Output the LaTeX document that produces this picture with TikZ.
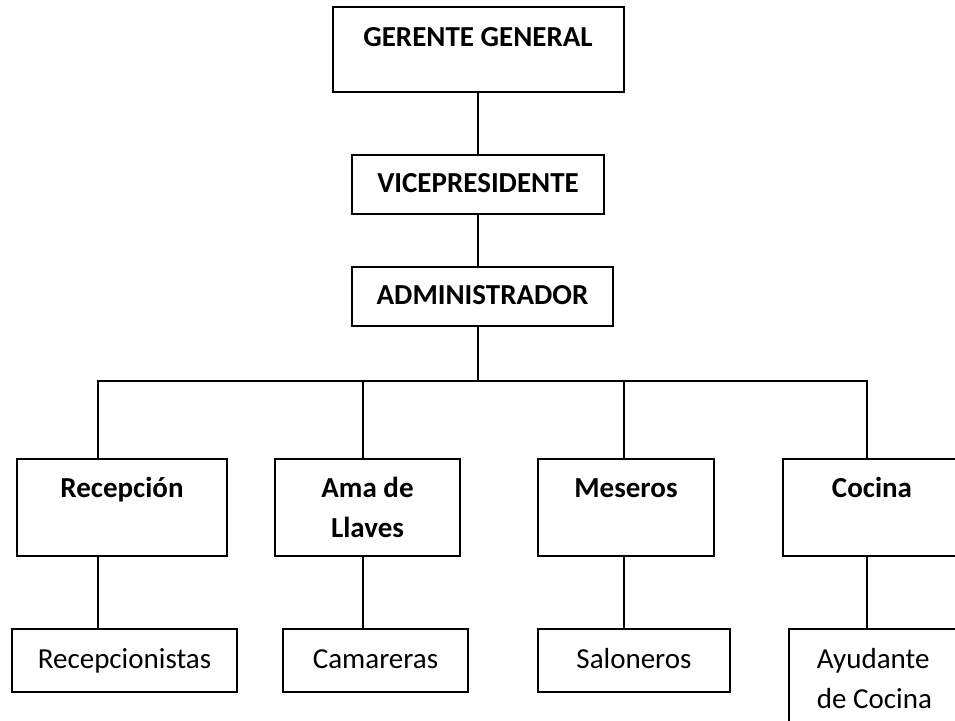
\documentclass[tikz,border=0pt]{standalone}
\usepackage{fontspec}
\setmainfont{Carlito}
\usetikzlibrary{positioning}
\tikzset{
  % --- boxes -----------------------------------------------------------------
  unit/.style={draw,line width=1pt,inner sep=0pt,anchor=north,align=center,
               font=\fontsize{14.5}{20}\selectfont},
  headbox/.style={unit,font=\fontsize{14.5}{20}\selectfont\bfseries},
  mgrbox/.style={headbox,text height=19pt,text depth=10.5pt},
  areabox/.style={headbox,text height=39.5pt,text depth=9pt},
  staffbox/.style={unit,text height=20pt,text depth=11.5pt},
  % --- connectors ------------------------------------------------------------
  link/.style={line width=1pt,black},
}

\begin{document}
\begin{tikzpicture}[x=0.5pt,y=-0.5pt]
  \useasboundingbox (0,0) rectangle (955,721);
  \clip (0,0) rectangle (955,721);

  \node[headbox,minimum width=145.5pt,text height=20pt,text depth=22.5pt]
        (gg) at (478,6) {GERENTE GENERAL};
  \node[mgrbox,minimum width=126pt]   (vp)  at (478,154)   {VICEPRESIDENTE};
  \node[mgrbox,minimum width=130.5pt] (adm) at (482.5,266) {ADMINISTRADOR};

  \node[areabox,minimum width=105pt]  (rec) at (122,458)   {Recepción\\ };
  \node[areabox,minimum width=92.5pt] (ama) at (367.5,458) {Ama de\\Llaves};
  \node[areabox,minimum width=88pt]   (mes) at (626,458)   {Meseros\\ };
  \node[areabox,minimum width=89pt]   (coc) at (872,458)   {Cocina\\ };

  \node[staffbox,minimum width=112.5pt] (rcp) at (124.5,628) {Recepcionistas};
  \node[staffbox,minimum width=92.5pt]  (cam) at (375.5,628) {Camareras};
  \node[staffbox,minimum width=96pt]    (sal) at (634,628)   {Saloneros};
  \node[staffbox,anchor=north west,align=left,minimum width=85.5pt,
        text height=40pt,text depth=20pt] (ayu) at (788,628) {Ayudante\\de Cocina};

  % branch points on the bus line
  \coordinate (bus) at (478,381);
  \coordinate (d1) at (98,381);
  \coordinate (d2) at (363,381);
  \coordinate (d3) at (624,381);
  \coordinate (d4) at (867,381);

  \draw[link] (gg.south) -- (vp.north);
  \draw[link] (vp.south) -- (adm.north -| vp.south);
  \draw[link] (adm.south -| bus) -- (bus);
  \draw[link] (d1 |- rec.north) -- (d1) -- (d4) -- (d4 |- coc.north);
  \draw[link] (d2) -- (d2 |- ama.north);
  \draw[link] (d3) -- (d3 |- mes.north);
  \foreach \d/\a/\s in {d1/rec/rcp, d2/ama/cam, d3/mes/sal, d4/coc/ayu}
    \draw[link] (\a.south -| \d) -- (\d |- \s.north);
\end{tikzpicture}
\end{document}
